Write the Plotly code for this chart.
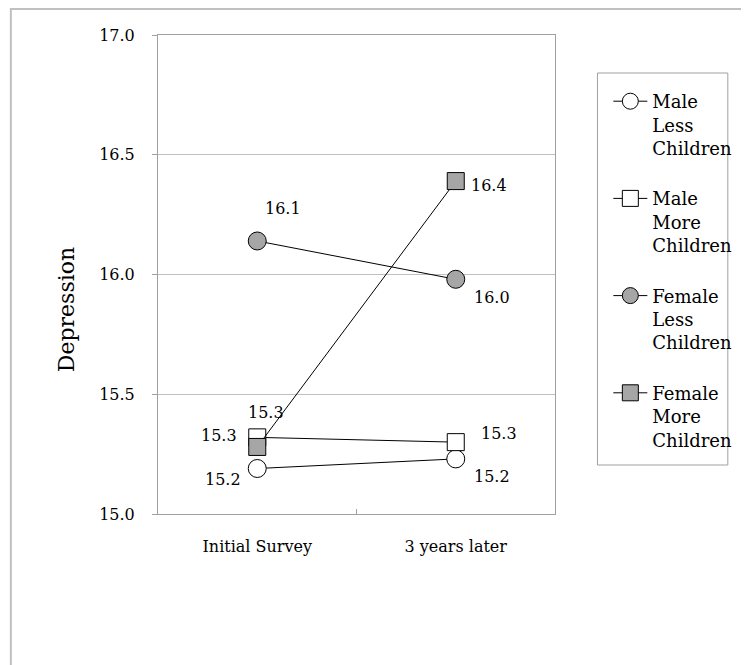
import plotly.graph_objects as go

categories = ["Initial Survey", "3 years later"]
series_names = ["Male<br>Less<br>Children", "Male<br>More<br>Children",
                "Female<br>Less<br>Children", "Female<br>More<br>Children"]
male_less = [15.19, 15.23]
male_more = [15.32, 15.30]
female_less = [16.14, 15.98]
female_more = [15.28, 16.39]
y_ticks = [15.0, 15.5, 16.0, 16.5, 17.0]
y_title = "Depression"

values = [male_less, male_more, female_less, female_more]
symbols = ["circle", "square", "circle", "square"]
fills = ["white", "white", "#a6a6a6", "#a6a6a6"]
# label offsets (px) for each point: (xshift, yshift)
offsets = [
    [(-34, -11), (36, -18)],
    [(9, 25), (43, 9)],
    [(26, 32), (36, -18)],
    [(-38, 11), (33, -4)],
]

FONT = "DejaVu Serif"
W, H = 741, 657          # page body has an 8px margin
L, T = 150, 27
PW, PH = 402, 479


def px_x(x):  # figure pixel -> paper
    return (x - L) / PW


def px_y(y):
    return (T + PH - y) / PH


fig = go.Figure()
for i, (name, vals) in enumerate(zip(series_names, values)):
    fig.add_trace(go.Scatter(
        x=categories, y=vals, name=name, mode="lines+markers",
        line=dict(color="black", width=1),
        marker=dict(symbol=symbols[i], size=18 if symbols[i] == "circle" else 17,
                    color=fills[i], line=dict(color="black", width=1)),
        legendgroup=f"g{i}",
    ))
    for j, v in enumerate(vals):
        fig.add_annotation(x=categories[j], y=v, text=f"{v:.1f}", showarrow=False,
                           xshift=offsets[i][j][0], yshift=offsets[i][j][1],
                           font=dict(family=FONT, size=16, color="black"))

# y-axis title (placed lower than centre, as in the original)
fig.add_annotation(xref="paper", yref="paper", x=px_x(65 - 8), y=px_y(310 - 8),
                   xanchor="center", yanchor="middle",
                   text=y_title, textangle=-90, showarrow=False,
                   font=dict(family=FONT, size=22, color="black"))

# outer frame (left/top edges visible)
fig.add_shape(type="rect", xref="paper", yref="paper",
              x0=px_x(1), x1=px_x(W + 20), y0=px_y(H + 20), y1=px_y(1),
              line=dict(color="#c0c0c0", width=2), layer="below")
# legend frame
fig.add_shape(type="rect", xref="paper", yref="paper",
              x0=px_x(603 - 8), x1=px_x(735 - 8), y0=px_y(465 - 8), y1=px_y(73 - 8),
              line=dict(color="#a0a0a0", width=1), layer="below")

fig.update_layout(
    width=W, height=H,
    margin=dict(l=L, r=W - L - PW, t=T, b=H - T - PH),
    paper_bgcolor="white", plot_bgcolor="white",
    font=dict(family=FONT, size=16, color="black"),
    showlegend=True,
    legend=dict(x=px_x(614 - 8), y=px_y(83 - 8), xanchor="left", yanchor="top",
                bgcolor="rgba(0,0,0,0)", borderwidth=0, tracegroupgap=24, valign="top",
                font=dict(family=FONT, size=18, color="black"), itemwidth=34),
    xaxis=dict(type="category", range=[-0.5, 1.5], showgrid=False,
               showline=True, linecolor="#a0a0a0", linewidth=1, mirror=True,
               ticks="inside", tickson="boundaries", ticklen=5, tickcolor="#a0a0a0",
               tickfont=dict(family=FONT, size=16), ticklabelstandoff=18),
    yaxis=dict(range=[15.0, 17.0], tickvals=y_ticks, tickformat=".1f",
               showgrid=True, gridcolor="#c0c0c0", gridwidth=1,
               showline=True, linecolor="#a0a0a0", linewidth=1, mirror=True,
               ticks="outside", ticklen=5, tickcolor="#a0a0a0",
               tickfont=dict(family=FONT, size=16), ticklabelstandoff=14,
               zeroline=False),
)

fig.write_html("out.html")
